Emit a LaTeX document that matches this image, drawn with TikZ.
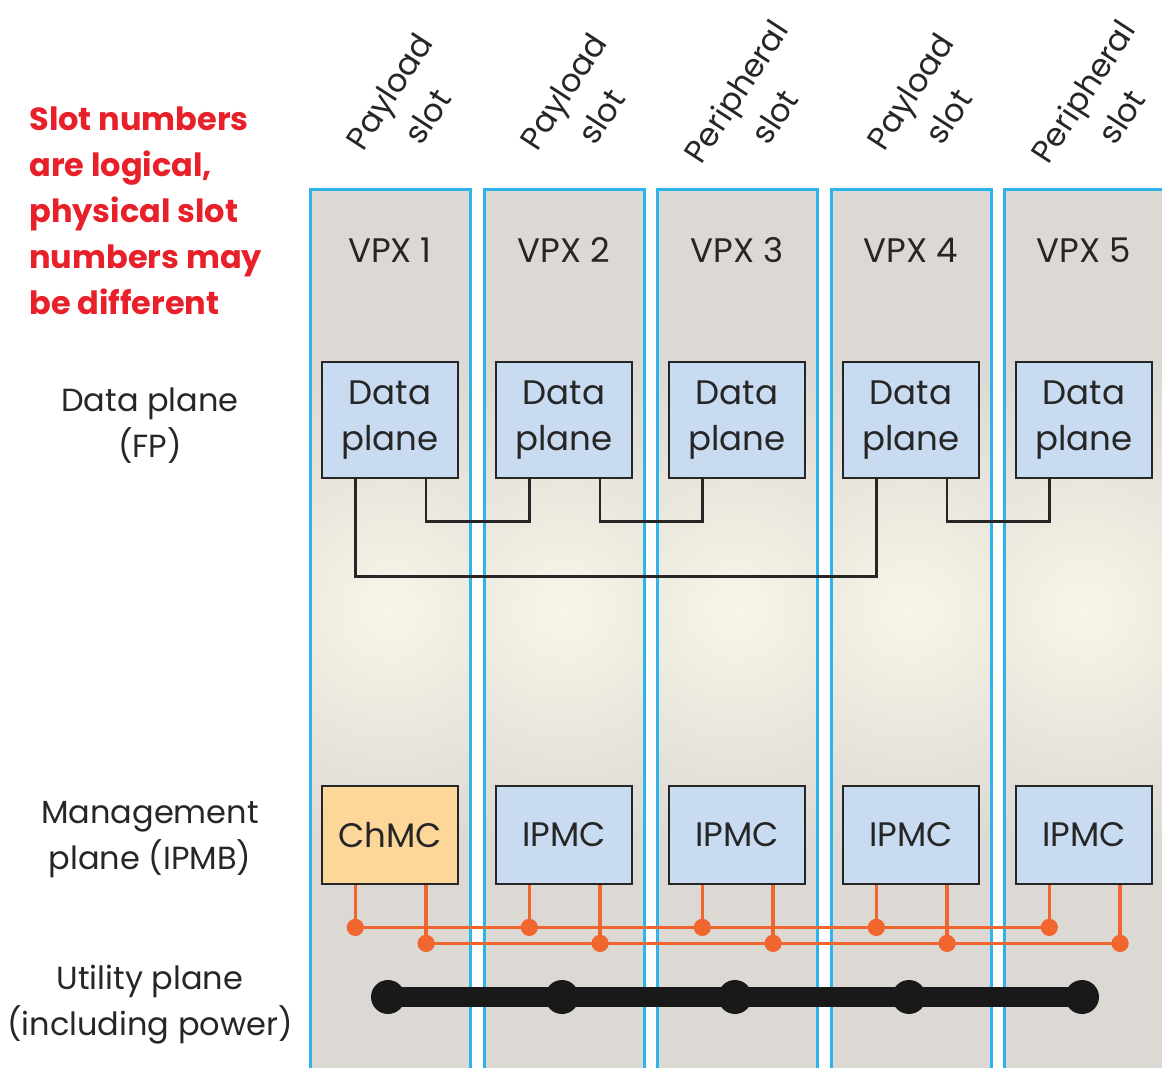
\documentclass[tikz,border=0pt]{standalone}
\usepackage{fontspec}
\setmainfont{Poppins}
\usetikzlibrary{calc}

\definecolor{ranura}{HTML}{DCD8D3}
\definecolor{brillo}{HTML}{F8F5E8}
\definecolor{borde}{HTML}{2DB4EA}
\definecolor{caja}{HTML}{C9DBF0}
\definecolor{cajachmc}{HTML}{FDD699}
\definecolor{naranja}{HTML}{F1662F}
\definecolor{aviso}{HTML}{E8202A}

\tikzset{
  texto/.style={font=\fontsize{17}{23}\selectfont, text=black!85},
  rotulo/.style={font=\fontsize{16}{23}\selectfont, text=black!85, align=center},
  plano/.style={texto, draw=black!85, fill=caja, line width=1.4pt,
    minimum width=68pt, minimum height=58pt, inner sep=0pt, align=center},
  gestion/.style={plano, minimum height=49pt},
  enlace/.style={draw=black!85, line width=1.3pt},
  bus/.style={draw=naranja, line width=1.7pt},
  potencia/.style={draw=black!90, line width=10pt}
}

\begin{document}
\begin{tikzpicture}[x=0.5pt, y=-0.5pt]

    \useasboundingbox (0,0) rectangle (1162,1068);
    \clip (0,0) rectangle (1162,1068);

    % Ranuras
    \foreach \i/\xl in {1/310, 2/484, 3/657, 4/831, 5/1004} {
      \fill[ranura] (\xl,190) rectangle ++(160,900);
      \begin{scope}
        \clip (\xl,190) rectangle ++(160,900);
        \shade[inner color=brillo, outer color=ranura] (\xl+80,610) circle (125pt);
      \end{scope}
      \draw[borde, line width=1.5pt] (\xl,190) rectangle ++(160,900);
      \node[texto] (vpx\i) at (\xl+80,250) {VPX \i};
    }

    % Tipos de ranura
    \foreach \i/\xl/\tipo in {1/310/Payload, 2/484/Payload, 3/657/Peripheral,
        4/831/Payload, 5/1004/Peripheral}
      \node[rotulo, rotate=57] (tipo\i) at (\xl+98,104) {\tipo\\slot};

    % Planos de datos y de gestion
    \node[gestion, fill=cajachmc] (mc1) at (390,835) {ChMC};
    \foreach \i in {1,...,5} {
      \node[plano] (dp\i) at (vpx\i |- 0,420) {Data\\plane};
      \coordinate (dp\i-l) at ($(dp\i.south west)!0.25!(dp\i.south east)$);
      \coordinate (dp\i-r) at ($(dp\i.south west)!0.76!(dp\i.south east)$);
    }
    \foreach \i in {2,...,5}
      \node[gestion] (mc\i) at (vpx\i |- 0,835) {IPMC};

    % Enlaces del plano de datos
    \draw[enlace] (dp1-l) -- ++(0,97) -| (dp4-l);
    \draw[enlace] (dp1-r) -- ++(0,42) -| (dp2-l);
    \draw[enlace] (dp2-r) -- ++(0,42) -| (dp3-l);
    \draw[enlace] (dp4-r) -- ++(0,42) -| (dp5-l);

    % Buses IPMB
    \foreach \i in {1,...,5} {
      \coordinate (mc\i-l) at ($(mc\i.south west)!0.25!(mc\i.south east)$);
      \coordinate (mc\i-r) at ($(mc\i.south west)!0.76!(mc\i.south east)$);
      \path (mc\i-l) ++(0,42) coordinate (ba\i);
      \path (mc\i-r) ++(0,58) coordinate (bb\i);
      \draw[bus] (mc\i-l) -- (ba\i);
      \draw[bus] (mc\i-r) -- (bb\i);
    }
    \draw[bus] (ba1) -- (ba5);
    \draw[bus] (bb1) -- (bb5);
    \foreach \i in {1,...,5} {
      \fill[naranja] (ba\i) circle (4.3pt);
      \fill[naranja] (bb\i) circle (4.3pt);
    }

    % Plano de utilidad
    \foreach \i in {1,...,5}
      \coordinate (ut\i) at ($(vpx\i |- 0,997)+(-2,0)$);
    \draw[potencia] (ut1) -- (ut5);
    \foreach \i in {1,...,5}
      \fill[black!90] (ut\i) circle (8.5pt);

    % Etiquetas de los planos
    \node[rotulo] (fp) at (150,426) {Data plane\\(FP)};
    \node[rotulo] (ipmb) at (150,840) {Management\\plane (IPMB)};
    \node[rotulo] (util) at (150,1005) {Utility plane\\(including power)};

    % Nota
    \node[text=aviso, font=\fontsize{16}{23}\selectfont\bfseries,
      align=left, anchor=north west, inner sep=0pt] (nota) at (29,106)
      {Slot numbers\\are logical,\\physical slot\\numbers may\\be different};

  \end{tikzpicture}
\end{document}
